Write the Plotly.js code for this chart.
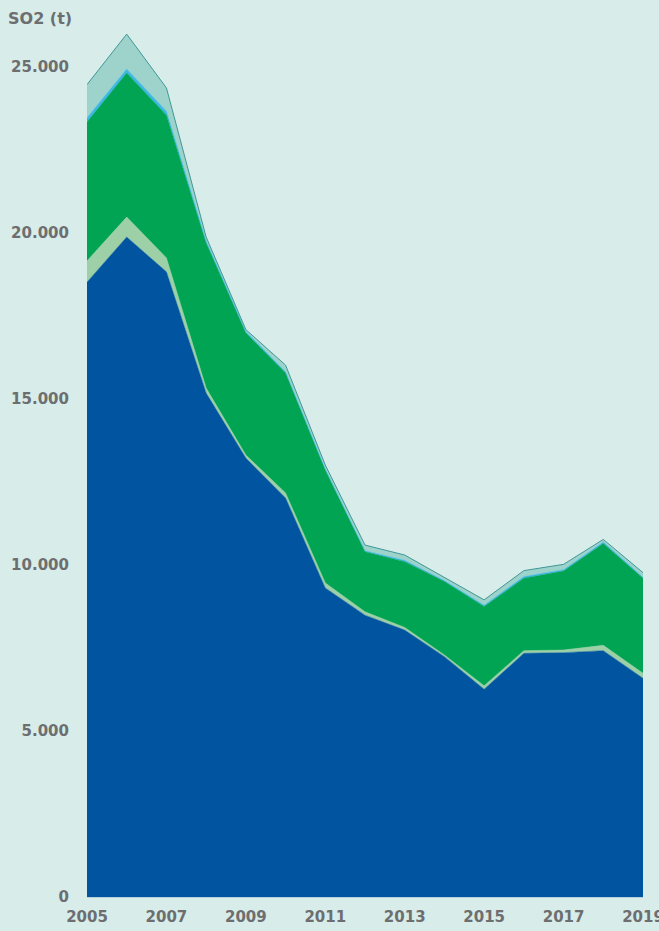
<!DOCTYPE html>
<html>
<head>
<meta charset="utf-8">
<script src="https://cdn.plot.ly/plotly-3.0.1.min.js"></script>
<style>
html,body{margin:0;padding:0;background:#d8ece9;}
#chart{width:659px;height:931px;}
</style>
</head>
<body>
<div id="chart"></div>
<script>
const years = [2005,2006,2007,2008,2009,2010,2011,2012,2013,2014,2015,2016,2017,2018,2019];
// stacked components (t SO2), bottom to top
const seriesBlue      = [18520,19880,18830,15180,13220,12020,9310,8490,8040,7240,6260,7340,7360,7420,6590];
const seriesLightGreen= [640,600,420,150,90,150,150,100,80,50,100,80,80,160,150];
const seriesGreen     = [4180,4340,4300,4370,3680,3610,3400,1810,1980,2210,2390,2180,2380,3070,2860];
const seriesLightBlue = [130,120,120,60,40,40,30,30,40,30,40,50,40,40,30];
const seriesTeal      = [1000,1050,700,120,60,200,120,170,160,100,160,180,160,80,140];
const yTicks = [0,5000,10000,15000,20000,25000];
const xTicks = [2005,2007,2009,2011,2013,2015,2017,2019];

function layer(y, color, lineColor, lineWidth){
  return {x: years, y: y, type:'scatter', mode:'lines', stackgroup:'one',
    fillcolor: color, line:{color: lineColor, width: lineWidth, shape:'linear'},
    hoverinfo:'skip'};
}
const data = [
  layer(seriesBlue, '#0054a0', '#0054a0', 0.5),
  layer(seriesLightGreen, '#9dd0a6', '#9dd0a6', 0.5),
  layer(seriesGreen, '#00a452', '#00a452', 0.5),
  layer(seriesLightBlue, '#3cb8e6', '#3cb8e6', 0.5),
  layer(seriesTeal, '#9dd3cb', '#3f9898', 1)
];
const fontFam = 'DejaVu Sans, sans-serif';
const layout = {
  width:659, height:931,
  paper_bgcolor:'#d8ece9', plot_bgcolor:'#d8ece9',
  margin:{l:87, r:16, t:31, b:34},
  showlegend:false,
  separators:',.',
  font:{family:fontFam, color:'#6d6e70', size:15},
  xaxis:{range:[2005,2019], tickvals:xTicks, ticktext:xTicks.map(String),
    showgrid:false, zeroline:false, showline:true, linecolor:'#b5cfd8', linewidth:1,
    ticks:'', ticklabelstandoff:6, ticklabeloverflow:'allow',
    tickfont:{family:fontFam, size:15, color:'#6d6e70', weight:'bold'},
    fixedrange:true},
  yaxis:{range:[0,26084], tickvals:yTicks, tickformat:',d', separatethousands:true,
    showgrid:false, zeroline:false, showline:false, ticks:'', ticklabelstandoff:17,
    tickfont:{family:fontFam, size:15, color:'#6d6e70', weight:'bold'}, fixedrange:true},
  annotations:[{text:'SO2 (t)', xref:'paper', yref:'paper', x:-0.145, y:1.0, yshift:13,
    xanchor:'left', yanchor:'middle', showarrow:false,
    font:{family:fontFam, size:16, color:'#6d6e70', weight:'bold'}}]
};
Plotly.newPlot('chart', data, layout, {displayModeBar:false, staticPlot:true});
</script>
</body>
</html>
